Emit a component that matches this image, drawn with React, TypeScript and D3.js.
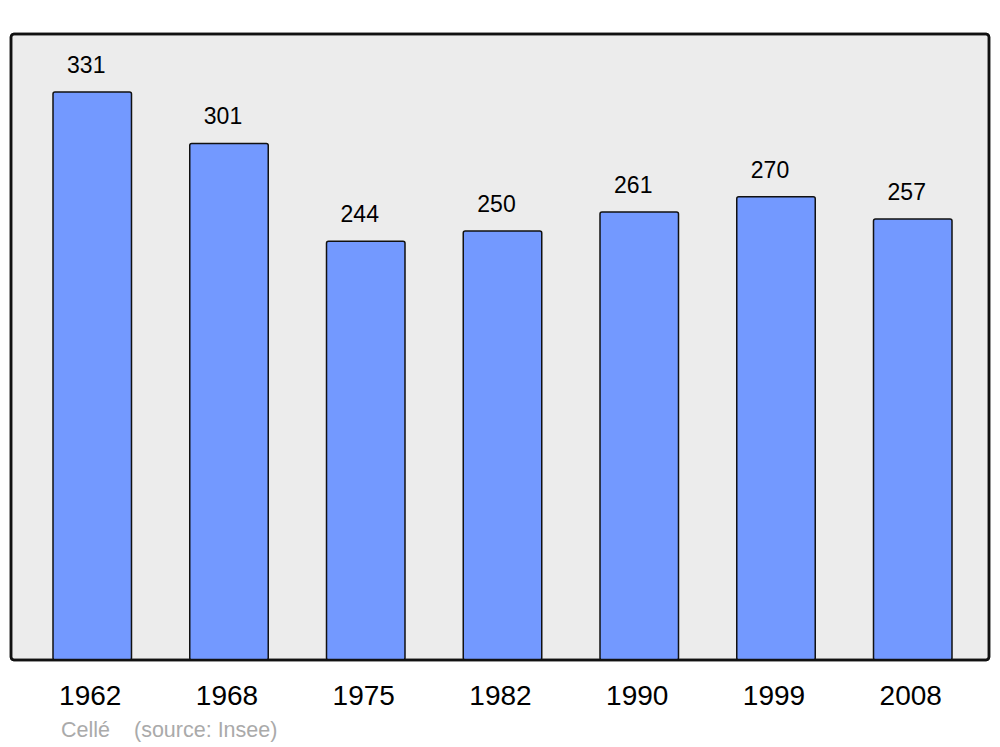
import React from "react";
import * as d3 from "d3";

const years = ["1962", "1968", "1975", "1982", "1990", "1999", "2008"];
const population = [331, 301, 244, 250, 261, 270, 257];
const commune = "Cellé";
const sourceText = "(source: Insee)";

export default function App() {
  const W = 1000, H = 747;
  const panel = { x: 11, y: 34, w: 978, h: 626 };
  const x = d3.scaleBand<string>().domain(years).range([53, 952]).paddingInner(0.426).paddingOuter(0);
  const y = d3.scaleLinear().domain([0, 331]).range([660, 92]);
  const font = "'Liberation Sans', Arial, sans-serif";
  return (
    <svg width={W} height={H} style={{ position: "absolute", left: 0, top: 0 }}>
      <rect x={0} y={0} width={W} height={H} fill="#fff" />
      <rect x={panel.x} y={panel.y} width={panel.w} height={panel.h} rx={3} fill="#ececec" stroke="#111" strokeWidth={2.5} />
      {years.map((yr, i) => {
        const bx = x(yr)!;
        const bw = x.bandwidth();
        return (
          <g key={yr}>
            <rect x={bx} y={y(population[i])} width={bw} height={660 - y(population[i])} rx={2} fill="#7399ff" stroke="#111" strokeWidth={1.5} />
            <text x={bx + bw / 2 - 6} y={y(population[i]) - 19} textAnchor="middle" fontFamily={font} fontSize={23} fill="#000">{population[i]}</text>
            <text x={bx + bw / 2 - 2} y={705} textAnchor="middle" fontFamily={font} fontSize={28} fill="#000">{yr}</text>
          </g>
        );
      })}
      <text x={61} y={737} fontFamily={font} fontSize={21.5} fill="#aaa">{commune}</text>
      <text x={134} y={737} fontFamily={font} fontSize={21.5} fill="#aaa">{sourceText}</text>
      <rect x={panel.x} y={panel.y} width={panel.w} height={panel.h} rx={3} fill="none" stroke="#111" strokeWidth={2.5} />
    </svg>
  );
}
